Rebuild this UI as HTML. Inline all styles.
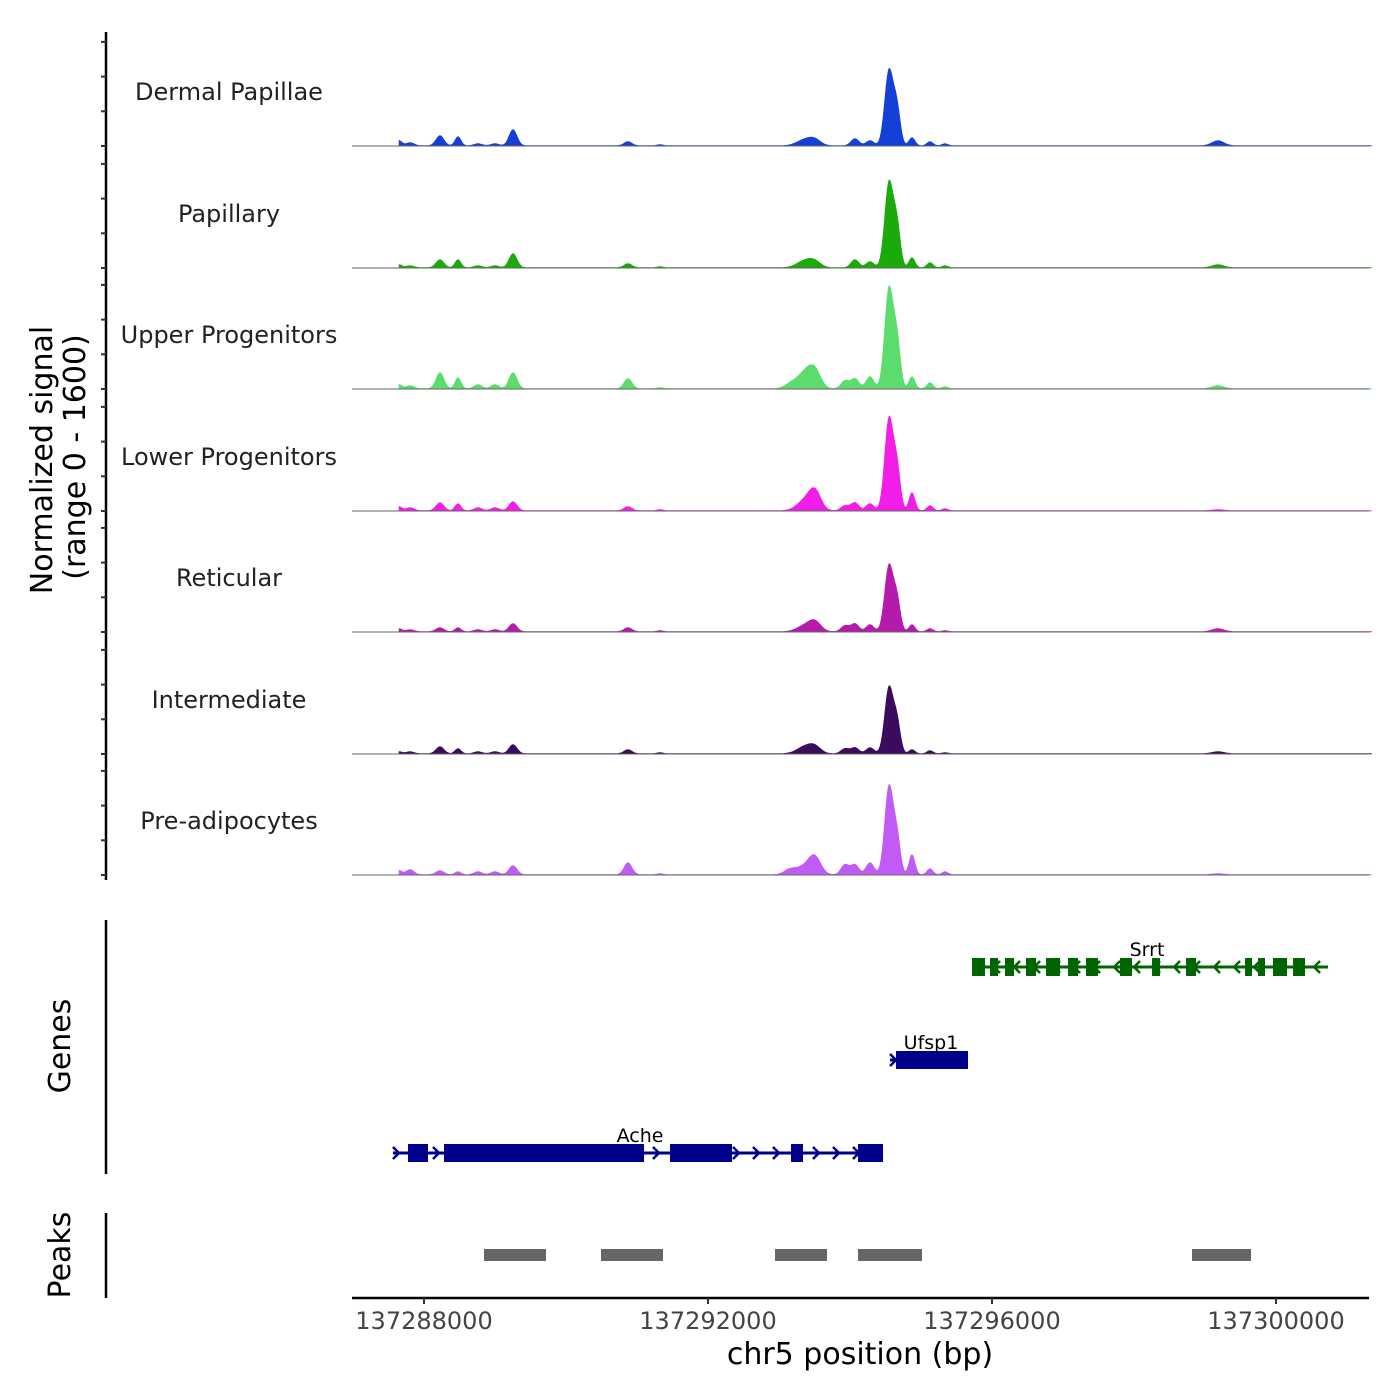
<!DOCTYPE html>
<html><head><meta charset="utf-8">
<style>
html,body{margin:0;padding:0;background:#fff;}
svg{display:block;font-family:"DejaVu Sans","Liberation Sans",sans-serif;}
</style></head>
<body>
<svg id="chart" width="1400" height="1400" viewBox="0 0 1400 1400">
<g id="axes"></g>
<g id="tracks"></g>
<g id="genes"></g>
<g id="peaks"></g>
</svg>
<script>
// ---- data ----
const trackNames = ["Dermal Papillae","Papillary","Upper Progenitors","Lower Progenitors","Reticular","Intermediate","Pre-adipocytes"];
const trackColors = ["#1440d8","#1aaa0a","#5cdc6c","#f21ee8","#b51aad","#3b0b5e","#c05cf5"];
const peakCenters = [137287648,137287803,137288225,137288479,137288761,137289000,137289254,137290873,137291324,137293155,137293366,137293507,137293930,137294070,137294282,137294549,137294662,137294873,137295127,137295338,137299183];
const peakWidths = [42,56,56,42,56,56,56,56,42,84,112,84,56,56,56,60,48,42,42,42,84];
const dermalPapillae = [5,3,10,9,2,2,16,4,1,0,6,5,0,7,5,75,35,8,4,2,5];
const papillary = [3,2,8,8,2,2,14,4,1,0,7,5,0,8,6,85,40,10,5,2,3];
const upperProgenitors = [4,3,16,11,4,4,16,10,1,4,16,15,8,10,12,100,45,12,6,2,3];
const lowerProgenitors = [4,3,8,7,3,3,9,4,1,0,10,18,5,8,7,92,40,18,5,2,1];
const reticular = [3,2,4,4,2,2,8,4,1,0,6,9,6,8,7,66,30,7,3,1,3];
const intermediate = [2,2,7,5,2,2,9,4,1,0,7,6,5,6,6,66,30,4,3,1,2];
const preAdipocytes = [4,5,4,3,3,3,9,12,1,5,8,16,10,10,12,88,35,20,6,3,1];
const trackValues = [dermalPapillae,papillary,upperProgenitors,lowerProgenitors,reticular,intermediate,preAdipocytes];
const xTicks = [137288000,137292000,137296000,137300000];
const xTickLabels = ["137288000","137292000","137296000","137300000"];
const signalStart = 137287648, signalEnd = 137301350;
const geneNames = ["Srrt","Ufsp1","Ache"];
const geneStarts = [137295719,137294564,137287563];
const geneEnds = [137300733,137295662,137294465];
const geneStrands = [-1,1,1];
const srrtExonStarts = [137295719,137295972,137296183,137296479,137296761,137297071,137297324,137297803,137298254,137298733,137299564,137299747,137299958,137300240];
const srrtExonEnds = [137295902,137296085,137296310,137296620,137296958,137297212,137297493,137297972,137298367,137298874,137299662,137299845,137300155,137300409];
const ufspExonStarts = [137294648];
const ufspExonEnds = [137295662];
const acheExonStarts = [137287775,137288282,137291465,137293169,137294113];
const acheExonEnds = [137288056,137291099,137292338,137293338,137294465];
const peakStarts = [137288845,137290493,137292944,137294113,137298817];
const peakEnds = [137289718,137291366,137293676,137295014,137299648];

// ---- scales ----
const X0 = 137288000, PX0 = 424, PXPB = 284/4000;
function xs(bp){ return PX0 + (bp - X0) * PXPB; }
const baselines = [146,268,389,511,632,754,875];
const yMaxVal = 121;
const NS = "http://www.w3.org/2000/svg";
function mk(tag, attrs, parent){ const e=document.createElementNS(NS,tag); for(const k in attrs) e.setAttribute(k,attrs[k]); parent.appendChild(e); return e; }

const axes = document.getElementById('axes');
let el = mk('line',{x1:106,y1:32,x2:106,y2:880,stroke:'#000','stroke-width':2.5},axes);


baselines.forEach((b,i)=>{
  for(let k=0;k<4;k++){
    const t = mk('line',{x1:101,y1:b-k*34.7,x2:106,y2:b-k*34.7,stroke:'#333','stroke-width':2},axes);
    
    
  }
});
el = mk('text',{x:0,y:0,'font-size':30,'text-anchor':'middle',transform:'translate(52,460) rotate(-90)'},axes);
el.textContent='Normalized signal';


el = mk('text',{x:0,y:0,'font-size':30,'text-anchor':'middle',transform:'translate(85,457) rotate(-90)'},axes);
el.textContent='(range 0 - 1600)';


el = mk('line',{x1:106,y1:920,x2:106,y2:1174,stroke:'#000','stroke-width':2.5},axes);


el = mk('text',{x:0,y:0,'font-size':30,'text-anchor':'middle',transform:'translate(70,1046) rotate(-90)'},axes);
el.textContent='Genes';


el = mk('line',{x1:106,y1:1213,x2:106,y2:1298,stroke:'#000','stroke-width':2.5},axes);


el = mk('text',{x:0,y:0,'font-size':30,'text-anchor':'middle',transform:'translate(70,1255) rotate(-90)'},axes);
el.textContent='Peaks';


el = mk('line',{x1:352,y1:1298,x2:1369,y2:1298,stroke:'#000','stroke-width':2.5},axes);


xTicks.forEach((t,i)=>{
  const tk = mk('line',{x1:xs(t),y1:1298,x2:xs(t),y2:1304,stroke:'#333','stroke-width':2},axes);
  
  
  const lb = mk('text',{x:xs(t),y:1329,'font-size':24,'text-anchor':'middle',fill:'#444'},axes);
  lb.textContent = xTickLabels[i];
  
  
});
el = mk('text',{x:860,y:1364,'font-size':30,'text-anchor':'middle'},axes);
el.textContent='chr5 position (bp)';



const tracks = document.getElementById('tracks');
trackNames.forEach((name,ti)=>{
  const b = baselines[ti];
  const vals = trackValues[ti];
  let d = '';
  const step = 14;
  for(let bp=signalStart; bp<=signalEnd; bp+=step){
    let v = 0.4;
    for(let j=0;j<peakCenters.length;j++){
      const z=(bp-peakCenters[j])/peakWidths[j];
      if(Math.abs(z)<5) v += vals[j]*Math.exp(-0.5*z*z);
    }
    const y = b - v*(121/yMaxVal);
    d += (d===''?'M'+xs(bp)+','+b+' L':' L')+xs(bp).toFixed(1)+','+y.toFixed(1);
  }
  d += ' L'+xs(signalEnd)+','+b+' Z';
  const p = mk('path',{d:d,fill:trackColors[ti],stroke:trackColors[ti],'stroke-width':0.6},tracks);
  
  
  const bl = mk('line',{x1:352,y1:b,x2:1369,y2:b,stroke:'#666','stroke-width':1},tracks);
  
  
  const lab = mk('text',{x:229,y:b-46,'font-size':24,'text-anchor':'middle',fill:'#222'},tracks);
  lab.textContent = name;
  
  
});

const genes = document.getElementById('genes');
const geneY = [967,1060,1153];
const geneColors = ["#006400","#00008b","#00008b"];
const exonSets = [[srrtExonStarts,srrtExonEnds],[ufspExonStarts,ufspExonEnds],[acheExonStarts,acheExonEnds]];
const labelX = [1147,931,640];
geneNames.forEach((g,gi)=>{
  const y=geneY[gi], c=geneColors[gi];
  const x1=xs(geneStarts[gi]), x2=xs(geneEnds[gi]);
  const ln = mk('line',{x1:x1,y1:y,x2:x2,y2:y,stroke:c,'stroke-width':3},genes);
  
  
  const dir = geneStrands[gi];
  for(let x=x1+4; x<=x2-2; x+=20){
    const ch = mk('path',{d: dir>0 ? `M${x-4},${y-6} L${x+2},${y} L${x-4},${y+6}` : `M${x+4},${y-6} L${x-2},${y} L${x+4},${y+6}`,fill:'none',stroke:c,'stroke-width':2.5},genes);
    
    
  }
  const [st,en]=exonSets[gi];
  st.forEach((s,k)=>{
    const r = mk('rect',{x:xs(s),y:y-9,width:xs(en[k])-xs(s),height:18,fill:c},genes);
    
    
  });
  const t = mk('text',{x:labelX[gi],y:y-11,'font-size':19,'text-anchor':'middle',fill:'#000'},genes);
  t.textContent=g;
  
  
});

const peaks = document.getElementById('peaks');
peakStarts.forEach((s,i)=>{
  const r = mk('rect',{x:xs(s),y:1249,width:xs(peakEnds[i])-xs(s),height:12,fill:'#666'},peaks);
  
  
});
</script>
</body></html>
